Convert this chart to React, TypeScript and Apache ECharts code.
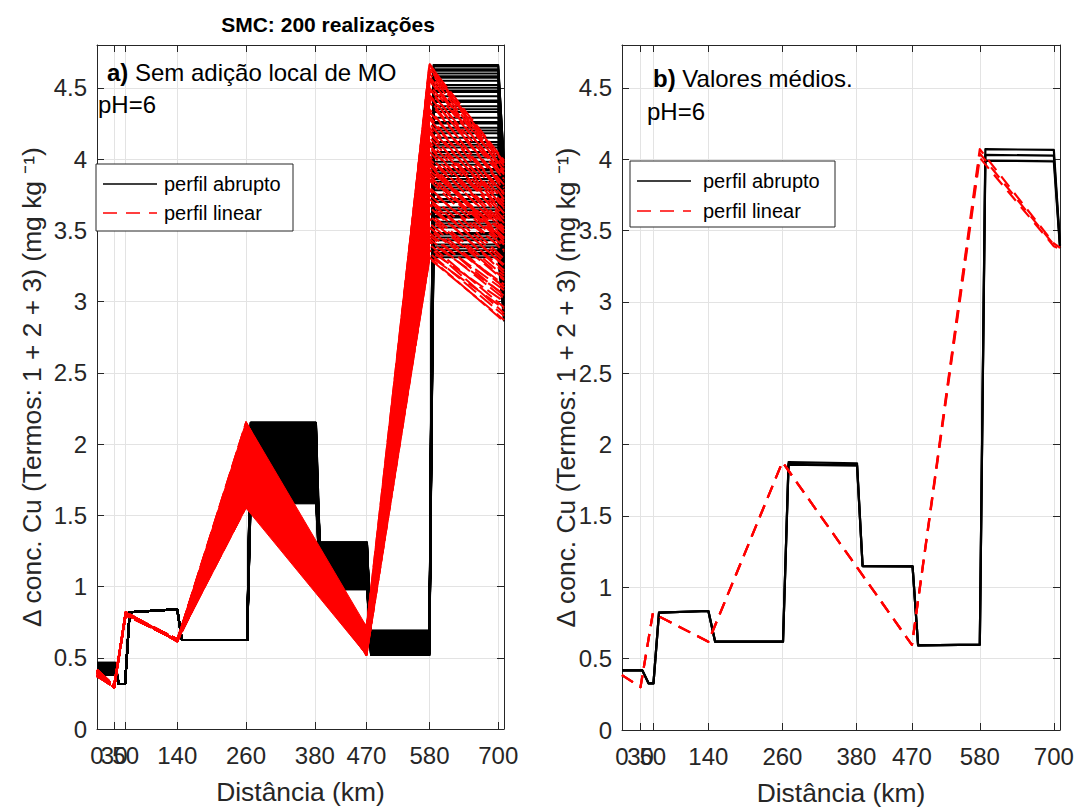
import React, { useEffect, useRef } from "react";
import * as echarts from "echarts";

// ---------- axes ----------
const X_TICKS = [0, 30, 50, 140, 260, 380, 470, 580, 700];
const X_LABELS_MAIN = [0, 50, 140, 260, 380, 470, 580, 700];
const X_LABELS_EXTRA = [30];
const Y_TICKS = [0, 0.5, 1, 1.5, 2, 2.5, 3, 3.5, 4, 4.5];
const X_MAX = 710;
const Y_MAX = 4.8;

// ---------- panel a: 200 realizations (representative subset + dense envelopes) ----------
// abrupt profile breakpoints (km)
const STEP_X_A = [0, 32, 38, 49, 57, 140, 148, 262, 268, 382, 389, 471, 478, 580, 587, 700, 710];
const DIP_A = 0.315;
const RISE_A = 0.82;
const PLATEAU_A = 0.84;
const LOW_A = 0.625;
const B_START = [0.39, 0.45, 0.41, 0.43, 0.38, 0.46, 0.42, 0.4, 0.44, 0.395, 0.455, 0.415, 0.435, 0.385, 0.465, 0.425, 0.405, 0.445, 0.39, 0.43, 0.41, 0.45, 0.4, 0.42, 0.44, 0.38, 0.46, 0.415, 0.435, 0.395, 0.425, 0.455, 0.405, 0.385, 0.445, 0.41, 0.43, 0.39, 0.42, 0.44];
const B_SEG1 = [2.15, 1.62, 1.88, 2.03, 1.71, 1.95, 1.59, 2.1, 1.8, 1.67, 2.07, 1.92, 1.74, 1.99, 1.64, 2.12, 1.85, 1.77, 2.01, 1.69, 1.9, 2.14, 1.6, 1.83, 1.97, 1.73, 2.05, 1.66, 1.87, 2.09, 1.78, 1.94, 1.61, 2.0, 1.82, 1.7, 2.11, 1.91, 1.75, 1.98];
const B_SEG2 = [1.02, 1.25, 1.12, 0.99, 1.3, 1.08, 1.19, 1.05, 1.28, 1.14, 1.0, 1.22, 1.1, 1.27, 1.03, 1.17, 1.31, 1.07, 1.21, 0.98, 1.15, 1.26, 1.04, 1.18, 1.11, 1.29, 1.01, 1.23, 1.09, 1.16, 1.24, 0.99, 1.13, 1.28, 1.06, 1.2, 1.02, 1.3, 1.12, 1.08];
const B_SEG3 = [0.55, 0.66, 0.6, 0.53, 0.68, 0.58, 0.63, 0.54, 0.67, 0.61, 0.52, 0.65, 0.57, 0.69, 0.59, 0.64, 0.56, 0.62, 0.53, 0.67, 0.6, 0.55, 0.66, 0.58, 0.63, 0.52, 0.68, 0.57, 0.61, 0.65, 0.54, 0.69, 0.59, 0.62, 0.56, 0.64, 0.53, 0.66, 0.6, 0.58];
const B_SEG4 = [4.66, 3.45, 4.12, 3.8, 4.55, 3.33, 3.98, 4.4, 3.62, 4.25, 3.52, 4.6, 3.88, 4.05, 3.4, 4.48, 3.7, 4.18, 3.56, 4.63, 3.93, 3.36, 4.33, 3.75, 4.52, 3.66, 4.08, 3.48, 4.44, 3.84, 4.22, 3.31, 4.58, 3.72, 4.01, 3.59, 4.37, 3.9, 4.29, 3.43,
  4.62, 3.38, 4.15, 3.78, 4.47, 3.54, 4.26, 3.64, 4.57, 3.86, 4.1, 3.47, 4.35, 3.96, 4.65, 3.7, 4.2, 3.34, 4.5, 3.82, 4.03, 3.6, 4.41, 3.92];
const B_END = [3.95, 3.05, 3.62, 3.4, 3.88, 2.9, 3.5, 3.78, 3.2, 3.7, 3.12, 3.92, 3.45, 3.55, 2.98, 3.82, 3.3, 3.66, 3.15, 3.98, 3.48, 2.88, 3.74, 3.35, 3.85, 3.25, 3.58, 3.08, 3.8, 3.42, 3.68, 2.86, 3.9, 3.33, 3.52, 3.18, 3.76, 3.45, 3.72, 3.02,
  3.93, 2.95, 3.64, 3.38, 3.84, 3.1, 3.71, 3.22, 3.9, 3.47, 3.6, 3.06, 3.77, 3.5, 3.96, 3.28, 3.67, 2.92, 3.86, 3.42, 3.56, 3.2, 3.8, 3.46];

// dense black blocks (envelopes of the 200 abrupt realizations)
const BLOCK_X0 = [0, 268, 389, 478];
const BLOCK_X1 = [32, 382, 471, 580];
const BLOCK_LO = [0.38, 1.58, 0.98, 0.52];
const BLOCK_HI = [0.466, 2.155, 1.31, 0.69];

// linear profile nodes (km)
const RED_X_A = [0, 30, 50, 140, 260, 470, 580, 710];
const R_0 = [0.4, 0.38, 0.415, 0.37, 0.39, 0.41, 0.375, 0.395];
const R_30 = [0.3, 0.29, 0.305, 0.295, 0.31, 0.29, 0.3, 0.295];
const R_50 = [0.81, 0.82, 0.8, 0.815, 0.805, 0.82, 0.81, 0.8];
const R_140 = [0.62, 0.615, 0.625, 0.63, 0.62, 0.618, 0.628, 0.622];
const R_260 = [2.15, 1.6, 1.85, 2.02, 1.7, 1.95, 1.56, 2.1, 1.78, 1.66, 2.06, 1.9, 1.74, 1.99, 1.63, 2.13, 1.82, 1.76, 2.0, 1.68, 1.88, 2.08, 1.58, 1.8, 1.97, 1.72, 2.04, 1.65, 1.86, 2.11, 1.77, 1.93, 1.61, 2.01, 1.83, 1.69, 2.09, 1.91, 1.75, 1.96];
const R_470 = [0.6, 0.53, 0.68, 0.57, 0.64, 0.52, 0.71, 0.58, 0.62, 0.55, 0.66, 0.59, 0.54, 0.7, 0.61, 0.56, 0.65, 0.52, 0.63, 0.69, 0.57, 0.6, 0.54, 0.67, 0.58, 0.62, 0.53, 0.72, 0.59, 0.55, 0.64, 0.61, 0.56, 0.68, 0.52, 0.63, 0.58, 0.66, 0.54, 0.6];
const R_580 = [4.67, 3.55, 4.2, 3.85, 4.45, 3.32, 3.95, 4.58, 3.68, 4.3, 3.42, 4.62, 3.9, 4.1, 3.36, 4.5, 3.75, 4.15, 3.5, 4.64, 3.98, 3.38, 4.35, 3.8, 4.55, 3.62, 4.05, 3.46, 4.4, 3.88, 4.25, 3.3, 4.6, 3.72, 4.02, 3.58, 4.42, 3.93, 4.28, 3.44,
  4.63, 3.4, 4.12, 3.66, 4.48, 3.34, 4.22, 3.78, 4.56, 3.52, 4.0, 3.86, 4.33, 3.6, 4.66, 3.48, 4.18, 3.31, 4.44, 3.92, 4.08, 3.7, 4.52, 3.96];
const R_END = [3.9, 3.1, 3.55, 3.35, 3.8, 2.95, 3.45, 3.85, 3.2, 3.65, 3.05, 3.95, 3.4, 3.5, 3.0, 3.78, 3.28, 3.6, 3.12, 3.98, 3.42, 2.92, 3.7, 3.3, 3.88, 3.18, 3.52, 3.08, 3.75, 3.38, 3.62, 2.87, 3.92, 3.25, 3.48, 3.15, 3.72, 3.44, 3.68, 3.02,
  3.97, 2.96, 3.58, 3.22, 3.86, 2.9, 3.66, 3.36, 3.93, 3.1, 3.5, 3.44, 3.76, 3.16, 3.99, 3.04, 3.62, 2.86, 3.82, 3.48, 3.54, 3.26, 3.89, 3.4];

// dense red fans (envelopes of the 200 linear realizations)
const FAN_X = [140, 260, 470, 580];
const FAN_LO = [0.615, 1.55, 0.52, 3.3];
const FAN_HI = [0.63, 2.157, 0.72, 4.67];

// ---------- panel b: mean values ----------
const STEP_X_B = [0, 33, 43, 51, 60, 140, 151, 261, 270, 381, 390, 471, 480, 580, 589, 700, 710];
const MEAN_ABRUPT_1 = [0.418, 0.418, 0.327, 0.327, 0.822, 0.834, 0.619, 0.619, 1.878, 1.868, 1.149, 1.147, 0.593, 0.598, 4.07, 4.065, 3.4];
const MEAN_ABRUPT_2 = [0.418, 0.418, 0.327, 0.327, 0.822, 0.834, 0.619, 0.619, 1.865, 1.857, 1.149, 1.147, 0.593, 0.598, 4.03, 4.025, 3.39];
const MEAN_ABRUPT_3 = [0.418, 0.418, 0.327, 0.327, 0.822, 0.834, 0.619, 0.619, 1.86, 1.852, 1.149, 1.147, 0.593, 0.598, 3.99, 3.985, 3.38];
const RED_X_B = [0, 30, 50, 140, 260, 470, 580, 700, 710];
const MEAN_LINEAR_1 = [0.385, 0.3, 0.818, 0.619, 1.878, 0.596, 4.07, 3.41, 3.38];
const MEAN_LINEAR_2 = [0.385, 0.3, 0.818, 0.619, 1.878, 0.596, 4.04, 3.4, 3.38];
const MEAN_LINEAR_3 = [0.385, 0.3, 0.818, 0.619, 1.878, 0.596, 4.01, 3.39, 3.37];

// ---------- texts ----------
const TITLE = "SMC: 200 realizações";
const X_NAME = "Distância (km)";
const Y_NAME = "Δ conc. Cu (Termos: 1 + 2 + 3) (mg kg ⁻¹)";
const LEGEND_LABELS = ["perfil abrupto", "perfil linear"];

const FONT = "'Liberation Sans', Arial, Helvetica, sans-serif";
const AXIS_COLOR = "#262626";
const GRID_COLOR = "#e3e3e3";
const RED = "#ff0000";
const DASH_A = [16, 5];
const DASH_B = [13, 8];

function polygonRender(color: string) {
  return (params: any, api: any) => {
    const a0 = api.coord([api.value(0), api.value(1)]);
    const b0 = api.coord([api.value(3), api.value(4)]);
    const b1 = api.coord([api.value(3), api.value(5)]);
    const a1 = api.coord([api.value(0), api.value(2)]);
    return {
      type: "polygon",
      shape: { points: [a0, b0, b1, a1] },
      style: { fill: color, stroke: color, lineWidth: 1 },
    };
  };
}

const LABEL_STYLE = {
  fontSize: 24,
  color: AXIS_COLOR,
  fontFamily: FONT,
  margin: 14,
  hideOverlap: false,
  showMinLabel: true,
  showMaxLabel: true,
};

function makeXAxes(gridIndex: number) {
  return [
    {
      type: "value",
      gridIndex,
      position: "bottom",
      min: 0,
      max: X_MAX,
      name: X_NAME,
      nameLocation: "middle",
      nameGap: 50,
      nameMoveOverlap: false,
      nameTextStyle: { fontSize: 26.4, color: AXIS_COLOR, fontFamily: FONT },
      axisLine: { show: true, onZero: false, lineStyle: { color: AXIS_COLOR, width: 1 } },
      axisTick: { show: true, inside: true, length: 7, customValues: X_TICKS, lineStyle: { color: AXIS_COLOR } },
      axisLabel: { show: true, customValues: X_LABELS_MAIN, ...LABEL_STYLE },
      splitLine: { show: true, lineStyle: { color: GRID_COLOR, width: 1 } },
    },
    {
      type: "value",
      gridIndex,
      position: "top",
      min: 0,
      max: X_MAX,
      axisLine: { show: true, onZero: false, lineStyle: { color: AXIS_COLOR, width: 1 } },
      axisTick: { show: true, inside: true, length: 7, customValues: X_TICKS, lineStyle: { color: AXIS_COLOR } },
      axisLabel: { show: false },
      splitLine: { show: false },
    },
    {
      // second label row on the same bottom edge (labels that overlap neighbours in the reference)
      type: "value",
      gridIndex,
      position: "bottom",
      offset: 0,
      min: 0,
      max: X_MAX,
      axisLine: { show: false, onZero: false },
      axisTick: { show: false, customValues: X_LABELS_EXTRA },
      axisLabel: { show: true, customValues: X_LABELS_EXTRA, ...LABEL_STYLE },
      splitLine: { show: false },
    },
  ];
}

function makeYAxes(gridIndex: number, nameGap: number) {
  return [
    {
      type: "value",
      gridIndex,
      position: "left",
      min: 0,
      max: Y_MAX,
      name: Y_NAME,
      nameLocation: "middle",
      nameGap,
      nameMoveOverlap: false,
      nameTextStyle: { fontSize: 26.4, color: AXIS_COLOR, fontFamily: FONT },
      axisLine: { show: true, onZero: false, lineStyle: { color: AXIS_COLOR, width: 1 } },
      axisTick: { show: true, inside: true, length: 7, customValues: Y_TICKS, lineStyle: { color: AXIS_COLOR } },
      axisLabel: { show: true, customValues: Y_TICKS, fontSize: 24, color: AXIS_COLOR, fontFamily: FONT, margin: 10, showMinLabel: true, showMaxLabel: true },
      splitLine: { show: true, lineStyle: { color: GRID_COLOR, width: 1 } },
    },
    {
      type: "value",
      gridIndex,
      position: "right",
      min: 0,
      max: Y_MAX,
      axisLine: { show: true, onZero: false, lineStyle: { color: AXIS_COLOR, width: 1 } },
      axisTick: { show: true, inside: true, length: 7, customValues: Y_TICKS, lineStyle: { color: AXIS_COLOR } },
      axisLabel: { show: false },
      splitLine: { show: false },
    },
  ];
}

function lineSeries(xIdx: number, yIdx: number, xs: number[], ys: number[], color: string, width: number, dash: number[] | null, z: number) {
  return {
    type: "line",
    xAxisIndex: xIdx,
    yAxisIndex: yIdx,
    data: xs.map((x, j) => [x, ys[j]]),
    symbol: "none",
    showSymbol: false,
    silent: true,
    clip: true,
    z,
    emphasis: { disabled: true },
    lineStyle: { color, width, type: dash ? dash : "solid", cap: "butt", join: "round" },
  };
}

function buildOption() {
  const series: any[] = [];
  const AX = 0; // panel a x axis index
  const AY = 0;
  const BX = 3; // panel b x axis index
  const BY = 2;

  // ----- panel a -----
  series.push({
    type: "custom",
    xAxisIndex: AX,
    yAxisIndex: AY,
    silent: true,
    clip: true,
    z: 2,
    renderItem: polygonRender("#000000"),
    encode: { x: [0, 3], y: [1, 2, 4, 5] },
    data: BLOCK_X0.map((x0, i) => [x0, BLOCK_LO[i], BLOCK_HI[i], BLOCK_X1[i], BLOCK_LO[i], BLOCK_HI[i]]),
  });
  B_SEG4.forEach((_, i) => {
    const m = i % B_SEG1.length;
    const ys = [
      B_START[m], B_START[m], DIP_A, DIP_A, RISE_A, PLATEAU_A, LOW_A, LOW_A,
      B_SEG1[m], B_SEG1[m], B_SEG2[m], B_SEG2[m], B_SEG3[m], B_SEG3[m], B_SEG4[i], B_SEG4[i], B_END[i],
    ];
    series.push(lineSeries(AX, AY, STEP_X_A, ys, "#000000", 2, null, 3));
  });
  const fanData: number[][] = [];
  for (let k = 0; k < FAN_X.length - 1; k++) {
    fanData.push([FAN_X[k], FAN_LO[k], FAN_HI[k], FAN_X[k + 1], FAN_LO[k + 1], FAN_HI[k + 1]]);
  }
  series.push({
    type: "custom",
    xAxisIndex: AX,
    yAxisIndex: AY,
    silent: true,
    clip: true,
    z: 4,
    renderItem: polygonRender(RED),
    encode: { x: [0, 3], y: [1, 2, 4, 5] },
    data: fanData,
  });
  R_580.forEach((_, i) => {
    const k = i % R_0.length;
    const m = i % R_260.length;
    const ys = [R_0[k], R_30[k], R_50[k], R_140[k], R_260[m], R_470[m], R_580[i], R_END[i]];
    series.push(lineSeries(AX, AY, RED_X_A, ys, RED, 2, DASH_A, 5));
  });

  // ----- panel b -----
  [MEAN_ABRUPT_1, MEAN_ABRUPT_2, MEAN_ABRUPT_3].forEach((ys) => {
    series.push(lineSeries(BX, BY, STEP_X_B, ys, "#000000", 2.2, null, 3));
  });
  [MEAN_LINEAR_1, MEAN_LINEAR_2, MEAN_LINEAR_3].forEach((ys) => {
    series.push(lineSeries(BX, BY, RED_X_B, ys, RED, 2.2, DASH_B, 5));
  });

  const legend = (bx: number, by: number, bw: number, bh: number, lx0: number, lx1: number, tx: number, y1: number, y2: number) => [
    { type: "rect", shape: { x: bx, y: by, width: bw, height: bh }, style: { fill: "#ffffff", stroke: AXIS_COLOR, lineWidth: 1 }, z: 10 },
    { type: "line", shape: { x1: lx0, y1, x2: lx1, y2: y1 }, style: { stroke: "#000000", lineWidth: 1.3 }, z: 11 },
    { type: "text", x: tx, y: y1, style: { text: LEGEND_LABELS[0], fontSize: 20, fontFamily: FONT, fill: "#000000", verticalAlign: "middle" }, z: 11 },
    { type: "line", shape: { x1: lx0, y1: y2, x2: lx1, y2 }, style: { stroke: RED, lineWidth: 1.5, lineDash: [14, 9] }, z: 11 },
    { type: "text", x: tx, y: y2, style: { text: LEGEND_LABELS[1], fontSize: 20, fontFamily: FONT, fill: "#000000", verticalAlign: "middle" }, z: 11 },
  ];

  const graphic: any[] = [
    {
      type: "text",
      x: 328,
      y: 24,
      style: { text: TITLE, fontSize: 21, fontWeight: "bold", fontFamily: FONT, fill: "#000000", align: "center", verticalAlign: "middle" },
      z: 10,
    },
    {
      type: "text",
      x: 107,
      y: 72,
      style: {
        text: "{b|a)} Sem adição local de MO",
        fontSize: 24,
        fontFamily: FONT,
        fill: "#000000",
        verticalAlign: "middle",
        rich: { b: { fontSize: 24, fontWeight: "bold", fontFamily: FONT, fill: "#000000" } },
      },
      z: 10,
    },
    { type: "text", x: 98, y: 104, style: { text: "pH=6", fontSize: 24, fontFamily: FONT, fill: "#000000", verticalAlign: "middle" }, z: 10 },
    {
      type: "text",
      x: 653,
      y: 78,
      style: {
        text: "{b|b)} Valores médios.",
        fontSize: 24,
        fontFamily: FONT,
        fill: "#000000",
        verticalAlign: "middle",
        rich: { b: { fontSize: 24, fontWeight: "bold", fontFamily: FONT, fill: "#000000" } },
      },
      z: 10,
    },
    { type: "text", x: 647, y: 111, style: { text: "pH=6", fontSize: 24, fontFamily: FONT, fill: "#000000", verticalAlign: "middle" }, z: 10 },
    ...legend(96, 164, 197, 67, 103, 157, 164, 184, 213),
    ...legend(630, 161, 205, 66, 637, 691, 703, 181, 211),
  ];

  return {
    animation: false,
    backgroundColor: "#ffffff",
    textStyle: { fontFamily: FONT },
    grid: [
      { left: 97, top: 45, width: 407, height: 684, containLabel: false, outerBoundsMode: "none" },
      { left: 622, top: 45, width: 438, height: 685, containLabel: false, outerBoundsMode: "none" },
    ],
    xAxis: [...makeXAxes(0), ...makeXAxes(1)],
    yAxis: [...makeYAxes(0, 52), ...makeYAxes(1, 43)],
    series,
    graphic,
  };
}

export default function App() {
  const ref = useRef<HTMLDivElement>(null);
  useEffect(() => {
    document.body.style.margin = "0";
    if (!ref.current) return;
    const chart = echarts.init(ref.current, null, { renderer: "svg" });
    chart.setOption(buildOption() as any);
    return () => chart.dispose();
  }, []);
  return <div ref={ref} style={{ width: 1077, height: 809, background: "#ffffff" }} />;
}
